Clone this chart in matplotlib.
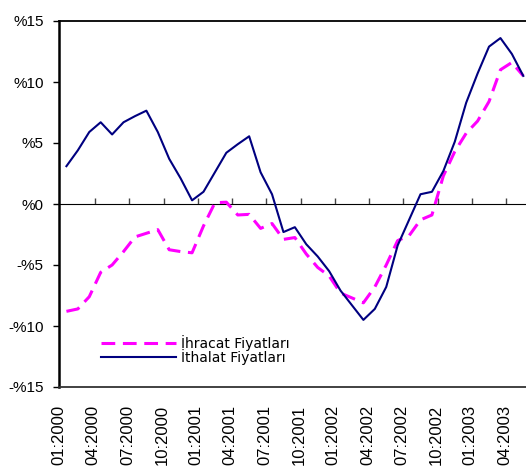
import matplotlib
matplotlib.use("Agg")
import matplotlib.pyplot as plt
import numpy as np

months = [f"{m:02d}:{y}" for y in (2000, 2001, 2002, 2003) for m in range(1, 13)][:41]

ithalat = [3.1, 4.4, 5.9, 6.7, 5.7, 6.7, 7.2, 7.65, 5.9, 3.7,
           2.1, 0.3, 1.0, 2.6, 4.2, 4.9, 5.55, 2.6, 0.8, -2.3,
           -1.9, -3.3, -4.3, -5.5, -7.1, -8.3, -9.5, -8.6, -6.8, -3.4,
           -1.3, 0.8, 1.0, 2.7, 5.1, 8.3, 10.7, 12.9, 13.6, 12.3,
           10.5]

ihracat = [-8.8, -8.6, -7.6, -5.6, -5.0, -3.9, -2.7, -2.4, -2.1, -3.75,
           -3.9, -4.0, -1.8, 0.1, 0.15, -0.9, -0.85, -2.0, -1.6, -2.9,
           -2.75, -4.1, -5.2, -5.9, -7.3, -7.7, -8.1, -6.8, -5.0, -3.0,
           -2.6, -1.3, -0.9, 2.3, 4.3, 5.8, 6.8, 8.4, 11.0, 11.6,
           10.5]

tick_labels = ["01:2000", "04:2000", "07:2000", "10:2000", "01:2001", "04:2001",
               "07:2001", "10:2001", "01:2002", "04:2002", "07:2002", "10:2002",
               "01:2003", "04:2003"]

y_ticks = [15, 10, 5, 0, -5, -10, -15]
y_tick_labels = ["%15", "%10", "%5", "%0", "-%5", "-%10", "-%15"]

W, H = 526, 474
fig = plt.figure(figsize=(W / 100, H / 100), dpi=100)
left, right, top, bottom = 59, 529, 21, 387
ax = fig.add_axes([left / W, 1 - bottom / H, (right - left) / W, (bottom - top) / H])

x = np.arange(len(months))
ax.plot(x, ihracat, color="#FF00FF", lw=2.2, linestyle=(0, (4.5, 2.5)),
        label="İhracat Fiyatları", solid_joinstyle="miter")
ax.plot(x, ithalat, color="#000080", lw=1.5, label="İthalat Fiyatları")

ax.set_xlim(-0.5, len(months) - 0.5)
ax.set_ylim(-15, 15)

# y axis
ax.set_yticks(y_ticks)
ax.set_yticklabels(y_tick_labels, fontsize=11, family="Liberation Sans")
ax.tick_params(axis="y", direction="out", length=4, width=1, pad=7, color="black")

# x labels at bottom
label_pos = [3 * k - 0.65 for k in range(len(tick_labels))]
ax.set_xticks(label_pos)
ax.set_xticklabels(tick_labels, rotation=90, fontsize=12, family="Liberation Sans")
ax.tick_params(axis="x", length=0, pad=13)

for s in ["right"]:
    ax.spines[s].set_visible(False)
ax.spines["left"].set_linewidth(1.8)
ax.spines["top"].set_linewidth(1.3)
ax.spines["bottom"].set_linewidth(1.3)
ax.spines["bottom"].set_color("#333333")

# zero axis with tick marks at category boundaries
sec = ax.secondary_xaxis(0.5)
sec.set_xticks([3 * k - 0.5 for k in range(1, len(tick_labels) + 1)])
sec.set_xticklabels([])
sec.tick_params(direction="out", length=4, width=1, color="#444444")
sec.spines["bottom"].set_linewidth(1.3)

leg = ax.legend(loc="center left", bbox_to_anchor=(101 / W, 1 - 350 / H),
                bbox_transform=fig.transFigure, frameon=False,
                prop={"family": "DejaVu Sans", "size": 10},
                handlelength=5.4, handletextpad=0.35, labelspacing=-0.1,
                borderpad=0, borderaxespad=0)

fig.savefig("out.png", dpi=100)
